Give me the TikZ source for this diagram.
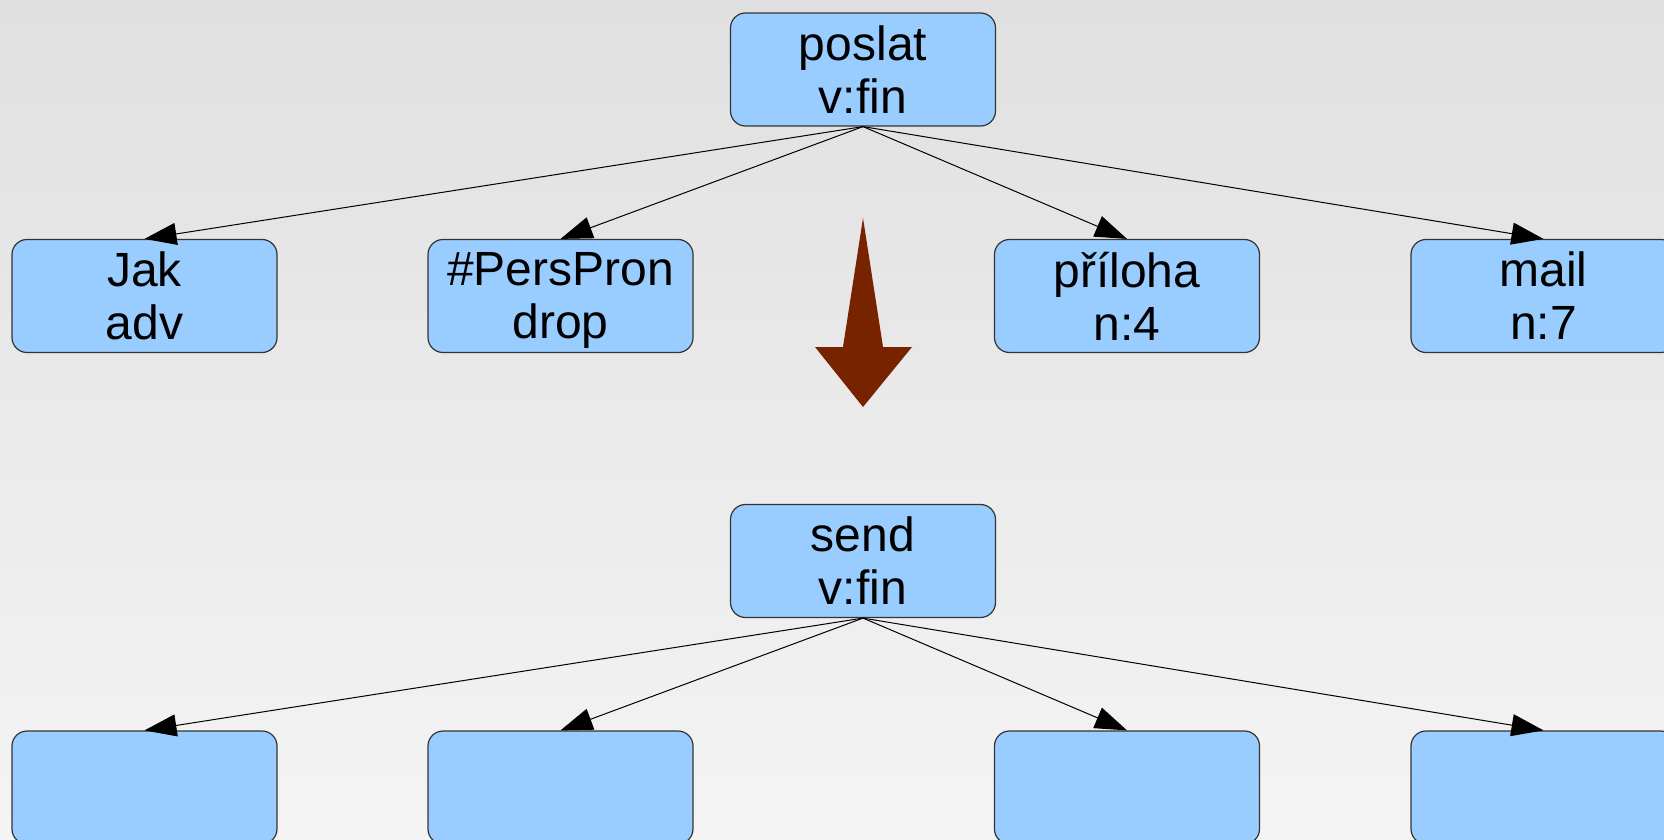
\documentclass[tikz,border=0pt]{standalone}
\usepackage{fontspec}
\setmainfont{Liberation Sans}
\usetikzlibrary{arrows.meta}
\definecolor{nodeBlue}{HTML}{99CCFF}
\definecolor{nodeLine}{HTML}{333333}
\definecolor{bigArrow}{HTML}{772300}

\begin{document}
\begin{tikzpicture}[x=0.5pt,y=-0.5pt,tnode/.style={draw=nodeLine,line width=0.6pt,fill=nodeBlue,rounded corners=7.5pt,minimum width=132.5pt,minimum height=56.5pt,inner sep=0pt,align=center,font=\fontsize{24pt}{26.5pt}\selectfont},arr/.style={-{Triangle[length=16pt,width=11pt]},line width=0.5pt,black}]
    \shade[top color={rgb,255:red,224;green,224;blue,224},bottom color={rgb,255:red,244;green,244;blue,244}] (0,0) rectangle (1664,840);
    \useasboundingbox (0,0) rectangle (1664,840);
    \node[tnode] (poslat) at (863,69.5) {poslat\\v:fin};
    \node[tnode] (jak) at (144.5,296) {Jak\\adv};
    \node[tnode] (perspron) at (560.5,296) {\#PersPron\\dro\smash{p}};
    \node[tnode] (priloha) at (1127,296) {příloha\\n:4};
    \node[tnode] (mail) at (1543.5,296) {mail\\n:7};
    \draw[arr] (poslat.south)--(jak.north);
    \draw[arr] (poslat.south)--(perspron.north);
    \draw[arr] (poslat.south)--(priloha.north);
    \draw[arr] (poslat.south)--(mail.north);
    \fill[bigArrow] (863,218)--(883,347)--(912,347)--(863,407)--(815,347)--(843,347)--cycle;
    \node[tnode] (send) at (863,561) {send\\v:fin};
    \node[tnode] (s1) at (144.5,787.5) {};
    \node[tnode] (s2) at (560.5,787.5) {};
    \node[tnode] (s3) at (1127,787.5) {};
    \node[tnode] (s4) at (1543.5,787.5) {};
    \draw[arr] (send.south)--(s1.north);
    \draw[arr] (send.south)--(s2.north);
    \draw[arr] (send.south)--(s3.north);
    \draw[arr] (send.south)--(s4.north);
  \end{tikzpicture}
\end{document}
